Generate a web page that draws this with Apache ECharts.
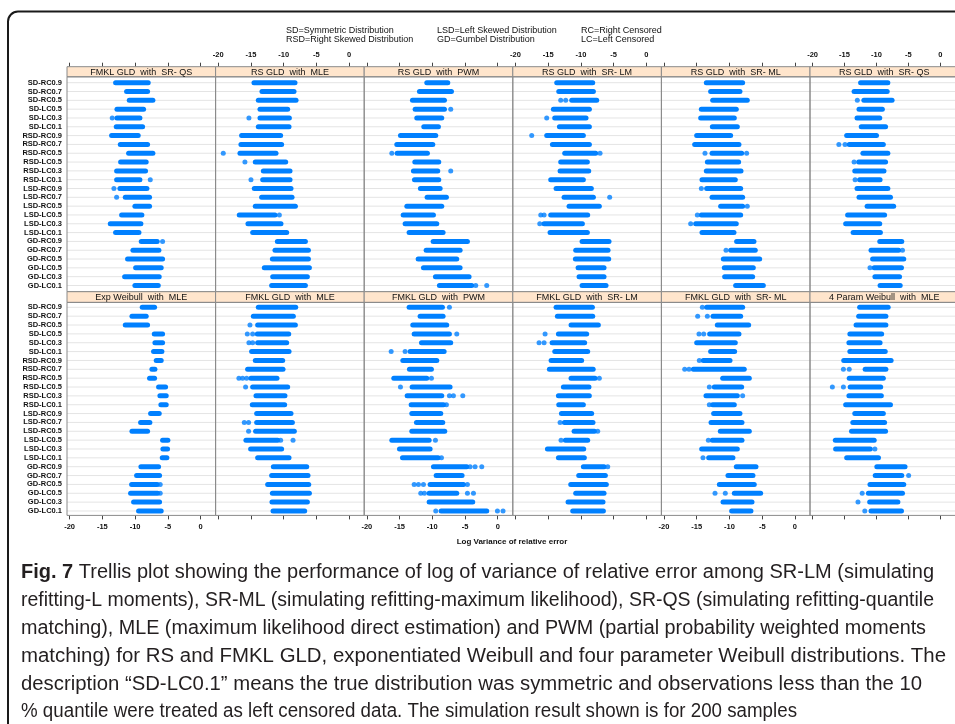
<!DOCTYPE html>
<html>
<head>
<meta charset="utf-8">
<script src="https://cdn.jsdelivr.net/npm/echarts@6/dist/echarts.min.js"></script>
<style>
  html, body { margin: 0; padding: 0; background: #ffffff; }
  #chart { width: 955px; height: 724px; }
</style>
</head>
<body>
<div id="chart"></div>
<script>
// Scenario labels, shared by every panel (top to bottom)
const rows = ['SD-RC0.9','SD-RC0.7','SD-RC0.5','SD-LC0.5','SD-LC0.3','SD-LC0.1',
  'RSD-RC0.9','RSD-RC0.7','RSD-RC0.5','RSD-LC0.5','RSD-LC0.3','RSD-LC0.1',
  'LSD-RC0.9','LSD-RC0.7','LSD-RC0.5','LSD-LC0.5','LSD-LC0.3','LSD-LC0.1',
  'GD-RC0.9','GD-RC0.7','GD-RC0.5','GD-LC0.5','GD-LC0.3','GD-LC0.1'];

const xTicks = [-20, -15, -10, -5, 0];

const panelTitles = [
  'FMKL GLD  with  SR- QS', 'RS GLD  with  MLE', 'RS GLD  with  PWM',
  'RS GLD  with  SR- LM', 'RS GLD  with  SR- ML', 'RS GLD  with  SR- QS',
  'Exp Weibull  with  MLE', 'FMKL GLD  with  MLE', 'FMKL GLD  with  PWM',
  'FMKL GLD  with  SR- LM', 'FMKL GLD  with  SR- ML', '4 Param Weibull  with  MLE'
];

// Dense run of the 200 log-variance values per scenario: [lowest, highest]
// plus isolated values lying away from the run: [row, value]
const fmklQsSpan = [[-12.98,-7.99],[-11.30,-8.09],[-10.89,-7.28],[-12.77,-8.70],[-12.77,-9.26],[-12.88,-8.85],[-13.59,-9.52],[-12.26,-8.09],[-10.99,-7.28],[-12.21,-8.30],[-12.82,-8.40],[-12.82,-9.26],[-12.32,-8.19],[-11.50,-7.79],[-10.03,-7.79],[-12.06,-8.96],[-13.79,-9.11],[-12.98,-9.41],[-9.06,-6.62],[-10.33,-6.36],[-11.15,-5.80],[-9.92,-6.01],[-11.60,-6.31],[-10.03,-6.46]];
const fmklQsStray = [[4,-13.49],[11,-7.68],[12,-13.23],[13,-12.82],[18,-5.80]];

const rsMleSpan = [[-14.54,-8.27],[-13.32,-8.42],[-13.88,-8.11],[-13.62,-9.39],[-13.62,-9.13],[-13.88,-9.18],[-16.43,-10.46],[-16.53,-10.31],[-16.68,-11.17],[-14.34,-9.69],[-13.11,-9.03],[-13.21,-9.03],[-14.49,-8.88],[-13.37,-8.72],[-14.34,-8.21],[-16.79,-11.33],[-15.46,-10.41],[-14.74,-9.54],[-10.97,-6.68],[-11.33,-6.22],[-11.73,-6.22],[-12.96,-6.07],[-11.68,-6.38],[-11.84,-6.68]];
const rsMleStray = [[4,-15.31],[8,-19.23],[9,-15.92],[11,-15.0],[15,-10.66]];

const rsPwmSpan = [[-10.84,-7.63],[-11.96,-7.07],[-13.03,-8.14],[-12.62,-8.14],[-12.37,-8.55],[-11.30,-9.06],[-14.86,-9.47],[-15.42,-9.92],[-15.37,-10.74],[-12.67,-9.01],[-12.88,-9.16],[-12.72,-9.01],[-11.81,-8.80],[-10.79,-7.84],[-13.89,-8.55],[-14.45,-9.82],[-14.15,-9.31],[-13.54,-8.35],[-9.87,-4.63],[-10.94,-5.75],[-12.16,-6.26],[-11.35,-5.75],[-9.52,-4.38],[-8.91,-3.97]];
const rsPwmStray = [[3,-7.18],[8,-16.18],[10,-7.18],[23,-3.36],[23,-1.68]];

const rsLmSpan = [[-13.69,-8.19],[-13.38,-8.09],[-11.40,-7.58],[-14.20,-8.70],[-14.00,-9.21],[-13.28,-8.70],[-15.22,-9.62],[-14.35,-8.70],[-12.47,-7.74],[-13.08,-9.01],[-13.18,-8.80],[-14.61,-9.62],[-13.79,-8.40],[-12.57,-8.09],[-11.81,-7.18],[-14.61,-8.96],[-15.62,-9.77],[-14.71,-9.01],[-9.82,-5.70],[-10.79,-5.85],[-10.84,-5.75],[-10.43,-6.46],[-10.28,-6.46],[-9.82,-6.16]];
const rsLmStray = [[2,-13.08],[2,-12.32],[4,-15.22],[6,-17.51],[8,-7.07],[13,-5.60],[15,-16.13],[15,-15.62],[16,-16.28]];

const rsMlSpan = [[-13.54,-7.99],[-12.88,-8.40],[-12.57,-7.28],[-14.30,-8.96],[-14.40,-9.26],[-12.62,-8.80],[-15.01,-9.82],[-15.32,-8.55],[-12.67,-8.14],[-13.38,-8.60],[-13.54,-8.24],[-14.20,-9.11],[-13.49,-8.29],[-12.67,-7.99],[-11.35,-7.99],[-14.30,-8.29],[-15.17,-8.96],[-14.20,-9.31],[-8.91,-6.26],[-9.82,-6.06],[-10.94,-5.39],[-10.79,-6.36],[-10.74,-6.46],[-9.06,-4.83]];
const rsMlStray = [[8,-13.74],[8,-7.38],[12,-14.30],[14,-7.28],[15,-14.91],[16,-15.93],[19,-10.53]];

const rsQsSpan = [[-12.48,-8.21],[-13.50,-8.31],[-11.97,-7.55],[-12.73,-9.07],[-13.04,-9.48],[-12.38,-8.57],[-14.66,-9.99],[-14.26,-8.92],[-12.12,-8.21],[-12.78,-8.57],[-13.39,-8.82],[-12.63,-9.43],[-13.04,-8.21],[-12.73,-7.80],[-11.46,-7.30],[-14.51,-8.72],[-14.82,-9.48],[-13.65,-9.38],[-9.48,-6.03],[-10.85,-6.53],[-10.60,-5.72],[-10.35,-6.08],[-10.24,-6.38],[-9.43,-6.28]];
const rsQsStray = [[2,-12.99],[7,-15.88],[7,-14.92],[9,-13.50],[11,-13.34],[19,-5.92],[21,-11.01]];

const expWeiSpan = [[-8.91,-7.02],[-10.48,-8.30],[-11.50,-8.09],[-7.07,-5.80],[-6.97,-5.80],[-7.18,-5.90],[-6.77,-6.01],[-7.43,-6.97],[-7.79,-7.02],[-6.41,-5.34],[-6.21,-5.24],[-6.06,-5.24],[-7.63,-6.31],[-9.16,-7.74],[-10.48,-8.09],[-5.80,-4.99],[-5.75,-5.04],[-5.85,-5.14],[-9.11,-6.41],[-9.77,-6.26],[-10.53,-6.62],[-10.69,-6.57],[-10.23,-6.26],[-9.47,-6.01]];
const expWeiStray = [[20,-6.16],[21,-6.16]];

const fmklMleSpan = [[-13.88,-8.16],[-14.64,-8.52],[-13.98,-8.21],[-14.03,-9.23],[-13.98,-9.54],[-14.90,-9.18],[-14.34,-10.15],[-15.51,-10.10],[-15.00,-11.02],[-14.74,-9.39],[-14.23,-9.80],[-14.80,-9.85],[-14.13,-8.88],[-14.13,-8.67],[-14.29,-8.37],[-15.77,-10.92],[-15.05,-10.31],[-13.98,-9.18],[-11.58,-6.48],[-11.84,-6.28],[-12.45,-6.17],[-11.73,-6.07],[-11.79,-6.38],[-11.63,-6.79]];
const fmklMleStray = [[2,-15.15],[3,-15.56],[3,-14.74],[4,-15.31],[4,-14.74],[8,-16.84],[8,-16.28],[8,-15.66],[9,-15.82],[13,-16.02],[13,-15.36],[14,-15.36],[15,-10.46],[15,-8.57]];

const fmklPwmSpan = [[-13.54,-8.45],[-11.86,-8.35],[-12.98,-7.79],[-12.77,-7.38],[-11.65,-7.18],[-13.38,-8.19],[-14.50,-9.31],[-13.49,-10.13],[-15.88,-10.84],[-13.08,-7.28],[-13.84,-8.55],[-13.23,-8.29],[-13.13,-8.70],[-12.42,-8.40],[-13.13,-8.09],[-16.18,-10.48],[-15.01,-10.33],[-14.55,-9.11],[-9.82,-4.73],[-9.41,-5.45],[-10.33,-5.24],[-10.48,-6.26],[-10.48,-3.82],[-8.65,-1.68]];
const fmklPwmStray = [[0,-7.38],[3,-6.26],[5,-16.28],[5,-14.15],[8,-10.13],[9,-14.86],[10,-7.38],[10,-6.77],[10,-5.34],[11,-7.84],[15,-9.52],[17,-8.60],[18,-4.22],[18,-3.46],[18,-2.44],[20,-12.77],[20,-12.11],[20,-11.35],[20,-4.63],[21,-11.76],[21,-11.20],[21,-4.63],[21,-3.71],[23,-9.47],[23,-0.05],[23,0.81]];

const fmklLmSpan = [[-13.79,-8.24],[-13.59,-8.19],[-11.50,-7.33],[-13.43,-9.11],[-14.40,-9.42],[-13.99,-8.96],[-14.55,-9.88],[-14.81,-8.12],[-11.50,-7.84],[-12.67,-8.76],[-13.43,-8.71],[-13.38,-9.62],[-12.97,-8.35],[-12.52,-8.15],[-11.04,-7.94],[-12.37,-8.96],[-15.11,-9.57],[-13.43,-9.47],[-9.62,-6.46],[-10.33,-6.26],[-11.55,-6.11],[-10.79,-6.46],[-11.96,-6.62],[-11.25,-6.56]];
const fmklLmStray = [[3,-15.47],[4,-16.39],[4,-15.62],[8,-7.18],[13,-13.18],[14,-7.43],[15,-13.03],[18,-5.90]];

const fmklMlSpan = [[-13.49,-7.99],[-12.52,-8.29],[-11.86,-7.07],[-13.03,-8.55],[-15.01,-9.11],[-12.88,-9.21],[-14.00,-9.92],[-15.52,-7.74],[-11.04,-6.97],[-12.32,-8.14],[-13.59,-8.80],[-12.57,-9.26],[-12.42,-8.40],[-12.82,-8.09],[-11.40,-6.97],[-12.62,-8.09],[-14.25,-8.80],[-13.18,-9.47],[-8.96,-5.95],[-10.23,-6.41],[-11.55,-6.21],[-9.26,-5.24],[-10.99,-6.56],[-9.67,-6.72]];
const fmklMlStray = [[0,-14.15],[1,-14.86],[1,-13.38],[3,-14.66],[3,-13.94],[6,-14.61],[7,-16.84],[7,-16.18],[9,-13.08],[10,-7.99],[11,-13.08],[15,-13.23],[17,-14.05],[21,-12.21],[21,-10.64]];

const wei4Span = [[-12.63,-8.16],[-12.78,-8.52],[-13.19,-8.52],[-14.16,-9.18],[-14.31,-9.43],[-14.16,-8.62],[-15.12,-7.70],[-11.77,-8.52],[-14.26,-8.92],[-14.11,-9.33],[-14.31,-9.23],[-14.82,-7.80],[-13.39,-8.92],[-13.70,-8.72],[-13.90,-8.57],[-16.44,-10.35],[-16.39,-10.96],[-14.66,-9.68],[-9.94,-5.52],[-10.19,-6.03],[-11.01,-5.72],[-11.26,-5.92],[-11.06,-6.64],[-10.85,-6.08]];
const wei4Stray = [[7,-15.17],[7,-14.26],[9,-16.90],[9,-15.17],[16,-10.24],[19,-4.96],[21,-12.23],[22,-12.89],[23,-11.82]];

const panelSpans = [fmklQsSpan, rsMleSpan, rsPwmSpan, rsLmSpan, rsMlSpan, rsQsSpan,
  expWeiSpan, fmklMleSpan, fmklPwmSpan, fmklLmSpan, fmklMlSpan, wei4Span];
const panelStrays = [fmklQsStray, rsMleStray, rsPwmStray, rsLmStray, rsMlStray, rsQsStray,
  expWeiStray, fmklMleStray, fmklPwmStray, fmklLmStray, fmklMlStray, wei4Stray];

const legendCols = [
  ['SD=Symmetric Distribution', 'RSD=Right Skewed Distribution'],
  ['LSD=Left Skewed Distribution', 'GD=Gumbel Distribution'],
  ['RC=Right Censored', 'LC=Left Censored']
];
const xTitle = 'Log Variance of relative error';
const captionLead = 'Fig. 7';
const captionLines = [
  ' Trellis plot showing the performance of log of variance of relative error among SR-LM (simulating',
  'refitting-L moments), SR-ML (simulating refitting-maximum likelihood), SR-QS (simulating refitting-quantile',
  'matching), MLE (maximum likelihood direct estimation) and PWM (partial probability weighted moments',
  'matching) for RS and FMKL GLD, exponentiated Weibull and four parameter Weibull distributions. The',
  'description \u201cSD-LC0.1\u201d means the true distribution was symmetric and observations less than the 10',
  '% quantile were treated as left censored data. The simulation result shown is for 200 samples'
];

// ---- layout ----
const FONT = "'Liberation Sans', Arial, sans-serif";
const X_MIN = -20.4, X_MAX = 2.3;
const COL_LEFT = 67, COL_W = 148.6;
const PANEL_ROWS = [
  { stripTop: 66.7, frameTop: 76.8, frameBottom: 291.7, gridTop: 78.3, gridBottom: 289.9 },
  { stripTop: 291.7, frameTop: 302.4, frameBottom: 515.4, gridTop: 302.9, gridBottom: 515.4 }
];
const DOT = '#0080ff';
const FRAME = '#8a8a8a';

const grids = [], xAxes = [], yAxes = [], series = [], graphics = [];

for (let i = 0; i < 12; i++) {
  const r = Math.floor(i / 6), c = i % 6;
  const L = PANEL_ROWS[r];
  const left = COL_LEFT + c * COL_W;
  grids.push({ left: left, top: L.gridTop, width: COL_W, height: L.gridBottom - L.gridTop });

  const labelled = r === 0 ? (c % 2 === 1) : (c % 2 === 0);
  xAxes.push({
    gridIndex: i, type: 'value', min: X_MIN, max: X_MAX,
    position: r === 0 ? 'top' : 'bottom',
    offset: r === 0 ? (L.gridTop - L.stripTop) : 0,
    axisLine: { show: false },
    axisTick: { show: true, length: 4, customValues: xTicks, lineStyle: { color: '#444', width: 1 } },
    axisLabel: { show: labelled, customValues: xTicks, margin: 8, fontSize: 7.5, fontWeight: 'bold',
                 color: '#111', fontFamily: FONT },
    splitLine: { show: false }
  });
  yAxes.push({
    gridIndex: i, type: 'category', data: rows, inverse: true,
    axisLine: { show: false }, axisTick: { show: false }, splitLine: { show: false },
    axisLabel: { show: c === 0, interval: 0, margin: 5, fontSize: 7.5, fontWeight: 'bold',
                 color: '#111', fontFamily: FONT }
  });

  series.push({
    type: 'custom', xAxisIndex: i, yAxisIndex: i, clip: false,
    encode: { x: [0, 1], y: 2 },
    data: panelSpans[i].map((s, k) => [s[0], s[1], k]),
    renderItem: function (params, api) {
      const row = api.value(2);
      const a = api.coord([api.value(0), row]);
      const b = api.coord([api.value(1), row]);
      const cs = params.coordSys;
      return {
        type: 'group',
        children: [
          { type: 'line', shape: { x1: cs.x, y1: a[1], x2: cs.x + cs.width, y2: a[1] },
            style: { stroke: '#e4e4e4', lineWidth: 1 } },
          { type: 'line', shape: { x1: a[0], y1: a[1], x2: b[0], y2: b[1] },
            style: { stroke: DOT, lineWidth: 5, lineCap: 'round' } }
        ]
      };
    },
    silent: true
  });
  series.push({
    type: 'scatter', xAxisIndex: i, yAxisIndex: i, symbol: 'circle', symbolSize: 5,
    itemStyle: { color: DOT }, silent: true,
    data: panelStrays[i].map(p => [p[1], p[0]])
  });

  // strip with the panel title, and the panel frame
  graphics.push({
    type: 'rect', z: 5,
    shape: { x: left, y: L.stripTop, width: COL_W, height: L.frameTop - L.stripTop },
    style: { fill: '#ffe5cc', stroke: FRAME, lineWidth: 1 }
  });
  graphics.push({
    type: 'text', z: 6, x: left + COL_W / 2, y: (L.stripTop + L.frameTop) / 2 + 0.3,
    style: { text: panelTitles[i], fontSize: 9, fontFamily: FONT, fill: '#111',
             align: 'center', verticalAlign: 'middle' }
  });
  graphics.push({
    type: 'rect', z: 5,
    shape: { x: left, y: L.frameTop, width: COL_W, height: L.frameBottom - L.frameTop },
    style: { fill: null, stroke: FRAME, lineWidth: 1 }
  });
}

// key to the scenario abbreviations
const legendX = [286, 437, 581];
legendCols.forEach((pair, k) => {
  pair.forEach((t, j) => {
    graphics.push({
      type: 'text', z: 6, x: legendX[k], y: 30.7 + j * 9,
      style: { text: t, fontSize: 9, fontFamily: FONT, fill: '#111', verticalAlign: 'middle' }
    });
  });
});

graphics.push({
  type: 'text', z: 6, x: 512, y: 542,
  style: { text: xTitle, fontSize: 8, fontWeight: 'bold', fontFamily: FONT, fill: '#111',
           align: 'center', verticalAlign: 'middle' }
});

// caption, each line squeezed to its measured width
const CAP_SIZE = 20;
const capRight = [934, 934, 926, 946, 922, 797];
const capY = [572, 600, 628, 656, 684, 711];
const mctx = document.createElement('canvas').getContext('2d');
function textWidth(t, bold) {
  mctx.font = (bold ? 'bold ' : '') + CAP_SIZE + 'px ' + FONT;
  return mctx.measureText(t).width;
}
captionLines.forEach((line, k) => {
  let natural = textWidth(line, false);
  let text = line;
  if (k === 0) {
    natural += textWidth(captionLead, true);
    text = '{b|' + captionLead + '}' + line;
  }
  const sx = (capRight[k] - 21) / natural;
  graphics.push({
    type: 'text', z: 6, x: 21, y: capY[k], scaleX: sx,
    style: { text: text, fontSize: CAP_SIZE, fontFamily: FONT, fill: '#231f20',
             verticalAlign: 'middle',
             rich: { b: { fontSize: CAP_SIZE, fontWeight: 'bold', fontFamily: FONT, fill: '#231f20' } } }
  });
});

// rounded outer frame of the figure
graphics.push({
  type: 'rect', z: 7,
  shape: { x: 8, y: 11.5, width: 1000, height: 800, r: 10 },
  style: { fill: null, stroke: '#1a1a1a', lineWidth: 2 }
});

const chart = echarts.init(document.getElementById('chart'), null, { renderer: 'canvas' });
chart.setOption({
  animation: false,
  backgroundColor: '#ffffff',
  grid: grids,
  xAxis: xAxes,
  yAxis: yAxes,
  series: series,
  graphic: { elements: graphics }
});
</script>
</body>
</html>
